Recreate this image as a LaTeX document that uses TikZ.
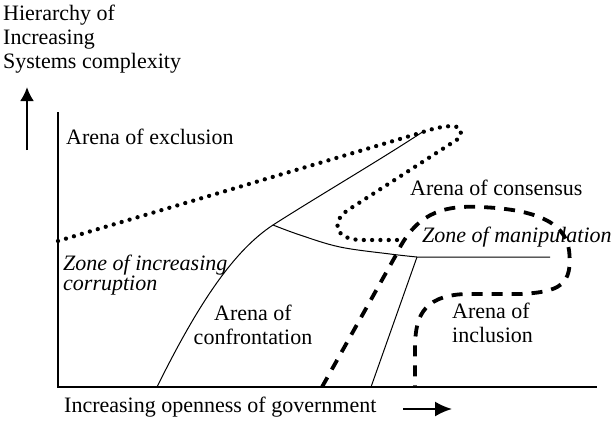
\documentclass[tikz,border=0pt]{standalone}
\usepackage{fontspec}
\setmainfont{Liberation Serif}
\usetikzlibrary{arrows.meta}
\begin{document}
\begin{tikzpicture}[>={Latex[length=14pt,width=14pt]}, x=1pt, y=-1pt,
    lbl/.style={font=\fontsize{22}{24}\selectfont, inner sep=0pt},
    zonelbl/.style={font=\fontsize{22}{20}\selectfont\itshape, inner sep=0pt},
    dotline/.style={line width=4.3pt, line cap=round, dash pattern=on 0pt off 8.3pt},
    dashline/.style={line width=3.8pt, dash pattern=on 11pt off 9pt},
    bound/.style={line width=1pt}]
    \useasboundingbox (0,0) rectangle (612,423);

    % Axes
    \coordinate (ytop) at (58,112);
    \coordinate (O) at (58,387);
    \coordinate (xend) at (597,387);
    \draw[line width=1.6pt] (ytop) -- (O) -- (xend);

    % Axis titles and arrows
    \node[lbl, anchor=north west, align=left] (ytitle) at (3,5)
        {Hierarchy of\\Increasing\\Systems complexity};
    \coordinate (up0) at (27,150);
    \coordinate (up1) at (27,87);
    \draw[->, line width=2.5pt] (up0) -- (up1);
    \node[lbl, anchor=west] (xtitle) at (64,407) {Increasing openness of government};
    \coordinate (rt0) at (403,409);
    \coordinate (rt1) at (452,409);
    \draw[-{Latex[length=17pt,width=15pt]}, line width=2pt] (rt0) -- (rt1);

    % Solid boundaries
    \coordinate (fork) at (273,225);
    \coordinate (knee) at (417,257);
    \draw[bound] (157,387) .. controls (200,300) and (235,250) .. (fork)
        .. controls (320,195) and (380,160) .. (424,131);
    \draw[bound] plot[smooth, tension=0.6] coordinates
        {(fork) (300,235) (340,247) (390,254) (knee)} -- (550,257);
    \draw[bound] (knee) -- (371,387);

    % Dotted boundary
    \draw[dotline] (58,241) -- (420,133)
        .. controls (445,124) and (470,122) .. (458,139)
        -- (348,210)
        .. controls (330,222) and (335,240) .. (362,240)
        -- (404,240);

    % Dashed boundary
    \draw[dashline] (322,387) -- (396,255)
        .. controls (415,215) and (440,205) .. (480,207)
        .. controls (530,209) and (565,220) .. (569,250)
        .. controls (573,285) and (560,292) .. (520,294)
        -- (465,294)
        .. controls (420,296) and (415,320) .. (415,350)
        -- (415,387);

    % Arena labels
    \node[lbl, anchor=west] (excl) at (66,137) {Arena of exclusion};
    \node[lbl, anchor=west] (cons) at (410,188) {Arena of consensus};
    \node[zonelbl, anchor=west] (manip) at (422,237) {Zone of manipulation};
    \node[zonelbl, anchor=west, align=left] (corr) at (63,275)
        {Zone of increasing\\corruption};
    \node[lbl, align=center] (confr) at (253,325) {Arena of\\confrontation};
    \node[lbl, anchor=west, align=left] (incl) at (452,323) {Arena of\\inclusion};
\end{tikzpicture}
\end{document}
